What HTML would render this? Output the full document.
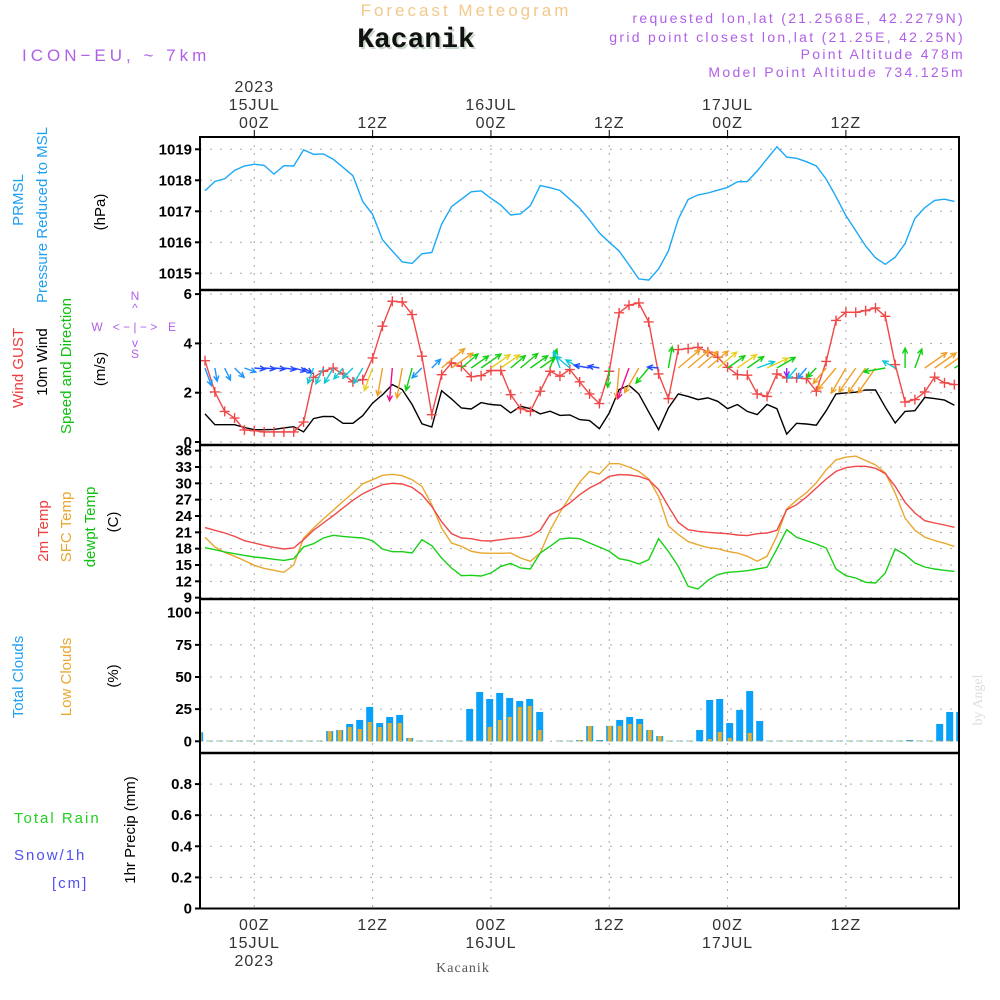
<!DOCTYPE html>
<html><head><meta charset="utf-8"><style>
html,body{margin:0;padding:0;background:#fff;}
svg{display:block;font-family:"Liberation Sans",sans-serif;}
</style></head><body>
<svg id="chart" width="1000" height="1000" viewBox="0 0 1000 1000">
<g id="hdr">
<text x="466" y="16" text-anchor="middle" font-size="17" fill="#f2c98a" letter-spacing="3">Forecast Meteogram</text>
<text x="418" y="49" text-anchor="middle" font-size="28" font-weight="bold" font-family="Liberation Mono, monospace" fill="#c8d8c8">Kacanik</text>
<text x="416" y="47" text-anchor="middle" font-size="28" font-weight="bold" font-family="Liberation Mono, monospace" fill="#111">Kacanik</text>
<text x="22" y="61" font-size="17" fill="#b060e8" letter-spacing="4">ICON−EU, ~ 7km</text>
<g font-size="14" fill="#b060e8" text-anchor="end" letter-spacing="2.3">
<text x="965" y="23">requested lon,lat (21.2568E, 42.2279N)</text>
<text x="965" y="42">grid point closest lon,lat (21.25E, 42.25N)</text>
<text x="965" y="59">Point Altitude 478m</text>
<text x="965" y="77">Model Point Altitude 734.125m</text>
</g>
</g>
<g id="grid"></g>
<g id="marks"></g>
<g id="axes"></g>
<g id="labels" font-size="15">
<text transform="translate(23,200) rotate(-90)" text-anchor="middle" fill="#20a0f0">PRMSL</text>
<text transform="translate(47,215) rotate(-90)" text-anchor="middle" fill="#20a0f0">Pressure Reduced to MSL</text>
<text transform="translate(105,212) rotate(-90)" text-anchor="middle" fill="#000">(hPa)</text>
<text transform="translate(23,368) rotate(-90)" text-anchor="middle" fill="#f03c3c">Wind GUST</text>
<text transform="translate(47,362) rotate(-90)" text-anchor="middle" fill="#000">10m Wind</text>
<text transform="translate(71,366) rotate(-90)" text-anchor="middle" fill="#10c010">Speed and Direction</text>
<text transform="translate(105,369) rotate(-90)" text-anchor="middle" fill="#000">(m/s)</text>
<g fill="#b060e8" font-size="12">
<text x="135" y="300" text-anchor="middle">N</text>
<text x="135" y="312" text-anchor="middle">^</text>
<text x="135" y="331" text-anchor="middle">&lt; − | − &gt;</text>
<text x="97" y="331" text-anchor="middle">W</text>
<text x="172" y="331" text-anchor="middle">E</text>
<text x="135" y="347" text-anchor="middle">v</text>
<text x="135" y="358" text-anchor="middle">S</text>
</g>
<text transform="translate(48,531) rotate(-90)" text-anchor="middle" fill="#f03c3c">2m Temp</text>
<text transform="translate(71,527) rotate(-90)" text-anchor="middle" fill="#e8a830">SFC Temp</text>
<text transform="translate(95,527) rotate(-90)" text-anchor="middle" fill="#10c010">dewpt Temp</text>
<text transform="translate(118,522) rotate(-90)" text-anchor="middle" fill="#000">(C)</text>
<text transform="translate(23,677) rotate(-90)" text-anchor="middle" fill="#20a0f0">Total Clouds</text>
<text transform="translate(71,677) rotate(-90)" text-anchor="middle" fill="#e8a830">Low Clouds</text>
<text transform="translate(118,676) rotate(-90)" text-anchor="middle" fill="#000">(%)</text>
<text x="14" y="823" fill="#20d020" letter-spacing="2">Total  Rain</text>
<text x="14" y="860" fill="#5050f0" letter-spacing="2">Snow/1h</text>
<text x="52" y="888" fill="#5050f0" letter-spacing="2">[cm]</text>
<text transform="translate(135,830) rotate(-90)" text-anchor="middle" fill="#000">1hr Precip (mm)</text>
<text transform="translate(982,700) rotate(-90)" text-anchor="middle" fill="#ddd" font-size="14" font-family="Liberation Serif, serif">by Angel</text>
<text x="463" y="972" text-anchor="middle" fill="#555" font-size="14" font-family="Liberation Serif, serif" letter-spacing="1">Kacanik</text>
</g>
</svg>
<script>
const hourStart = -5;
const pressure = [1017.66,1017.96,1018.05,1018.32,1018.46,1018.52,1018.48,1018.2,1018.47,1018.46,1018.98,1018.84,1018.85,1018.68,1018.42,1018.15,1017.31,1016.9,1016.08,1015.72,1015.37,1015.32,1015.63,1015.67,1016.58,1017.15,1017.39,1017.63,1017.66,1017.42,1017.2,1016.88,1016.92,1017.18,1017.83,1017.76,1017.67,1017.39,1017.1,1016.72,1016.3,1016.0,1015.72,1015.27,1014.82,1014.78,1015.14,1015.72,1016.75,1017.38,1017.53,1017.59,1017.68,1017.77,1017.95,1017.96,1018.3,1018.69,1019.08,1018.75,1018.71,1018.6,1018.46,1018.04,1017.47,1016.86,1016.37,1015.88,1015.5,1015.29,1015.52,1015.96,1016.77,1017.12,1017.35,1017.39,1017.32];
const gust = [3.3,2.03,1.24,0.97,0.49,0.46,0.41,0.41,0.41,0.41,0.81,2.62,2.87,3.0,2.76,2.44,2.53,3.41,4.7,5.71,5.68,5.17,3.48,1.11,2.73,3.21,3.07,2.65,2.69,2.9,2.9,1.92,1.35,1.24,2.06,2.87,2.67,2.94,2.44,1.95,1.56,2.87,5.24,5.55,5.64,4.87,2.76,1.76,3.75,3.79,3.84,3.65,3.44,3.03,2.73,2.71,1.95,1.85,2.76,2.6,2.6,2.57,2.06,3.27,4.93,5.26,5.26,5.33,5.44,5.1,3.14,1.62,1.72,2.03,2.63,2.4,2.33];
const wind10 = [1.14,0.7,0.7,0.7,0.59,0.5,0.5,0.51,0.57,0.62,0.41,0.95,1.04,1.03,0.76,0.76,1.07,1.58,1.92,2.33,2.13,1.52,0.74,0.61,2.08,1.75,1.38,1.34,1.6,1.52,1.49,1.18,1.45,1.35,1.14,1.25,1.08,1.1,0.91,0.87,0.54,1.18,2.13,2.3,1.95,1.22,0.5,1.38,1.95,1.85,1.72,1.79,1.65,1.35,1.52,1.24,1.11,1.52,1.35,0.32,0.76,0.73,0.68,1.27,1.95,1.99,2.02,2.11,2.11,1.41,0.77,1.24,1.27,1.81,1.76,1.7,1.49];
const windDir = [-70,-80,-65,-45,-20,-5,-5,-5,-8,-15,-30,-110,-115,-120,-130,-135,-120,-110,-100,-95,-100,-105,-135,45,40,35,40,35,35,35,35,40,40,35,35,70,110,140,150,170,170,-95,-95,-110,-120,-130,175,80,40,40,40,40,40,35,35,35,20,25,30,-90,-130,-130,-135,-130,-130,-120,-125,-125,-125,-170,150,90,70,35,35,35,30];
const windColor = ["B","B","B","B","B","D","D","D","D","D","D","C","C","C","C","C","C","Y","O","M","O","G","B","B","O","O","G","G","G","Y","Y","G","G","G","G","G","C","C","C","D","D","G","O","M","O","G","D","G","O","O","O","O","Y","G","Y","G","C","Y","G","P","C","B","G","O","O","O","O","O","O","G","C","G","G","O","O","O","G"];
const temp2m = [21.86,21.37,20.88,20.26,19.47,19.04,18.6,18.24,17.94,18.12,19.65,21.37,22.71,24.06,25.47,26.88,28.1,28.96,29.75,30.0,29.88,29.26,27.92,25.77,22.96,20.75,19.96,19.83,19.47,19.41,19.65,19.9,20.02,20.33,21.37,24.24,25.16,26.39,27.92,29.14,30.06,31.29,31.6,31.53,31.29,30.67,28.84,25.77,22.83,21.49,21.18,21.0,20.88,20.75,20.51,20.39,20.75,20.88,21.37,25.16,26.08,27.49,29.14,30.8,32.2,32.88,33.12,33.12,32.76,31.78,29.45,26.51,24.55,23.14,22.71,22.35,21.92];
const tempSfc = [20.08,18.3,17.32,16.59,15.8,14.94,14.38,14.02,13.65,15.0,19.96,21.8,23.45,25.04,26.69,28.22,29.94,30.67,31.47,31.65,31.41,30.67,29.45,26.08,21.8,19.04,18.43,17.51,17.2,17.14,17.14,17.2,16.28,15.67,17.2,21.37,24.67,27.5,30.2,32.2,31.7,33.6,33.6,33.0,32.2,30.8,27.6,22.2,20.6,19.3,18.7,18.2,18.0,17.5,17.2,16.6,15.7,16.6,20.3,25.3,26.9,28.3,30.1,32.5,34.3,34.8,35.0,34.2,33.4,31.9,28.2,23.6,21.4,20.1,19.5,19.0,18.4];
const dewpt = [18.18,17.8,17.38,17.08,16.77,16.47,16.28,16.04,15.85,16.16,18.3,18.92,19.96,20.45,20.26,20.08,19.96,19.47,17.94,17.45,17.45,17.2,19.65,18.55,16.28,14.45,13.04,13.1,12.98,13.53,14.75,15.3,14.45,14.26,17.2,18.43,19.77,19.96,19.83,19.04,18.3,17.5,16.16,15.8,15.18,15.98,19.83,17.5,14.75,11.08,10.59,12.18,13.22,13.65,13.77,13.96,14.26,14.57,17.94,21.49,20.08,19.47,18.86,18.12,14.26,13.04,12.61,11.82,11.69,13.53,17.94,16.9,15.37,14.63,14.26,14.02,13.83];
const totalClouds = [7,0.5,0.5,0.5,0.5,0.5,0.5,0.5,0.5,0.5,0.5,0.5,0.5,8,8.8,13.5,16.6,26.7,14.2,18.9,20.5,2.6,0.5,0.5,0.5,0.5,0.5,25.1,38.3,32.9,37.6,33.7,31.3,32.9,22.8,0,0.5,0.5,1,11.9,1,12,16.6,18.9,17.4,8.8,4.1,0.5,0.5,0.5,8.8,32.1,32.9,14.2,24.4,39.1,15.8,0.5,0.5,0.5,0.5,0.5,0.5,0.5,0.5,0.5,0.5,0.5,0.5,0.5,0.5,1,0.5,0.5,13.5,22.8,22.8];
const lowClouds = [7.3,0.5,0.5,0.5,0.5,0.5,0.5,0.5,0.5,0.5,0.5,0.5,0.5,8,8.8,11.1,9.6,15,11.1,14.2,14.2,2.6,0.5,0.5,0.5,0.5,0.5,0.5,0.5,11.1,16.6,18.9,26.7,27.5,8.8,0,0.5,0.5,1,11.9,0.5,12,12,13.5,13.5,8.8,4.1,0.5,0.5,0.5,0,1.8,7.3,2.6,0.5,6.5,0.5,0.5,0.5,0.5,0.5,0.5,0.5,0.5,0.5,0.5,0.5,0.5,0.5,0.5,0.5,0.5,0.5,0.5,0.5,0.5,0.5];
const precip = [];
const pTicks = [1015,1016,1017,1018,1019];
const wTicks = [0,2,4,6];
const tTicks = [9,12,15,18,21,24,27,30,33,36];
const cTicks = [0,25,50,75,100];
const rTicks = [0,0.2,0.4,0.6,0.8];
const timeTicks = [0,12,24,36,48,60];
const topDay = ["15JUL","","16JUL","","17JUL",""];
const tickText = ["00Z","12Z","00Z","12Z","00Z","12Z"];

const NS="http://www.w3.org/2000/svg";
const L=200,R=959;
const x=h=>254.3+9.86*h;
const barX=k=>199.7+10*k;
const yP=v=>149.3+(1019-v)*31;
const yW=v=>442-v*24.65;
const yT=v=>467+(33-v)*5.444;
const yC=v=>741.3-v*1.286;
const yR=v=>908.5-v*155.5;
const colMap={B:"#1e96ff",D:"#2448ff",C:"#10c8d8",Y:"#e8d020",O:"#f0a028",M:"#f0108c",G:"#10d010",P:"#9a20f0"};
function el(t,a,p){const e=document.createElementNS(NS,t);for(const k in a)e.setAttribute(k,a[k]);p.appendChild(e);return e;}
const grid=document.getElementById('grid'),marks=document.getElementById('marks'),axes=document.getElementById('axes');
const panels=[{t:137,b:290,ticks:pTicks,y:yP},{t:290,b:445,ticks:wTicks,y:yW},{t:445,b:599,ticks:tTicks,y:yT},{t:599,b:753,ticks:cTicks,y:yC},{t:753,b:908.5,ticks:rTicks,y:yR}];
panels.forEach((p)=>{
  p.ticks.forEach(v=>{
    const yy=p.y(v);
    const g=el('line',{x1:L,x2:R,y1:yy,y2:yy,stroke:'#aaa','stroke-width':1,'stroke-dasharray':'2,8'},grid);
    
    
    el('line',{x1:L-5,x2:L,y1:yy,y2:yy,stroke:'#000','stroke-width':2},axes);
    const t=el('text',{x:L-8,y:yy+5,'text-anchor':'end','font-size':15,fill:'#000','font-weight':'bold'},axes);
    t.textContent=v;
    
    
  });
  timeTicks.forEach(h=>{
    const g=el('line',{x1:x(h),x2:x(h),y1:p.t,y2:p.b,stroke:'#aaa','stroke-width':1,'stroke-dasharray':'2,6'},grid);
    
    
  });
});
const fr=el('rect',{x:L,y:137,width:R-L,height:908.5-137,fill:'none',stroke:'#000','stroke-width':2},axes);


[290,445,599,753].forEach(yy=>{const s=el('line',{x1:L,x2:R,y1:yy,y2:yy,stroke:'#000','stroke-width':2.5},axes);

});
timeTicks.forEach((h,i)=>{
  el('line',{x1:x(h),x2:x(h),y1:130,y2:137,stroke:'#000','stroke-width':1},axes);
  const a=el('text',{x:x(h),y:128,'text-anchor':'middle','font-size':16,fill:'#333','letter-spacing':1},axes);a.textContent=tickText[i];
  
  
  if(topDay[i]){const d=el('text',{x:x(h),y:110,'text-anchor':'middle','font-size':16,fill:'#333','letter-spacing':1},axes);d.textContent=topDay[i];
  
  
  const d2=el('text',{x:x(h),y:948,'text-anchor':'middle','font-size':16,fill:'#333','letter-spacing':1},axes);d2.textContent=topDay[i];
  
  }
  const b=el('text',{x:x(h),y:930,'text-anchor':'middle','font-size':16,fill:'#333','letter-spacing':1},axes);b.textContent=tickText[i];
  
  
});
{const y1=el('text',{x:x(0),y:92,'text-anchor':'middle','font-size':16,fill:'#333','letter-spacing':1},axes);y1.textContent="2023";


const y2=el('text',{x:x(0),y:966,'text-anchor':'middle','font-size':16,fill:'#333','letter-spacing':1},axes);y2.textContent="2023";

}
const defs=el('defs',{},marks);
const cp=el('clipPath',{id:'clip'},defs);el('rect',{x:L,y:137,width:R-L,height:772},cp);
const mg=el('g',{'clip-path':'url(#clip)'},marks);
function line(arr,yf,color,name){
  const d=arr.map((v,i)=>(i?'L':'M')+x(hourStart+i).toFixed(1)+','+yf(v).toFixed(1)).join('');
  const p=el('path',{d:d,fill:'none',stroke:color,'stroke-width':1.4},mg);
  
  
}
totalClouds.forEach((v,k)=>{
  const r=el('rect',{x:barX(k)-3.5,y:yC(v),width:7,height:yC(0)-yC(v),fill:'#08a0f8'},mg);
  
  
});
lowClouds.forEach((v,k)=>{
  const r=el('rect',{x:barX(k)-2,y:yC(v),width:4,height:yC(0)-yC(v),fill:'#e8b030'},mg);
  
  
});
line(pressure,yP,'#1aa8f8','pressure-line');
line(wind10,yW,'#000','wind-10m-line');
line(gust,yW,'#f04848','wind-gust-line');
gust.forEach((v,i)=>{
  const cx=x(hourStart+i),cy=yW(v);
  const m=el('path',{d:`M${cx-5},${cy}H${cx+5}M${cx},${cy-5}V${cy+5}`,stroke:'#f04848','stroke-width':1.4},mg);
  
  
});
windDir.forEach((a,i)=>{
  const bx=x(hourStart+i),by=368;
  const len=5+12*wind10[i];
  const r=a*Math.PI/180;
  const ex=bx+len*Math.cos(r),ey=by-len*Math.sin(r);
  const h1=r+Math.PI-0.45,h2=r+Math.PI+0.45;
  const c=colMap[windColor[i]];
  const d=`M${bx.toFixed(1)},${by}L${ex.toFixed(1)},${ey.toFixed(1)}M${(ex+6*Math.cos(h1)).toFixed(1)},${(ey-6*Math.sin(h1)).toFixed(1)}L${ex.toFixed(1)},${ey.toFixed(1)}L${(ex+6*Math.cos(h2)).toFixed(1)},${(ey-6*Math.sin(h2)).toFixed(1)}`;
  const p=el('path',{d:d,fill:'none',stroke:c,'stroke-width':1.4},mg);
  
  
});
line(tempSfc,yT,'#e8a830','sfc-temp-line');
line(temp2m,yT,'#f04848','temp-2m-line');
line(dewpt,yT,'#18d018','dewpt-line');
precip.forEach((v,k)=>{
  const r=el('rect',{x:barX(k)-3.5,y:yR(v),width:7,height:yR(0)-yR(v),fill:'#20d020'},mg);
  
  
});
</script>
</body></html>
